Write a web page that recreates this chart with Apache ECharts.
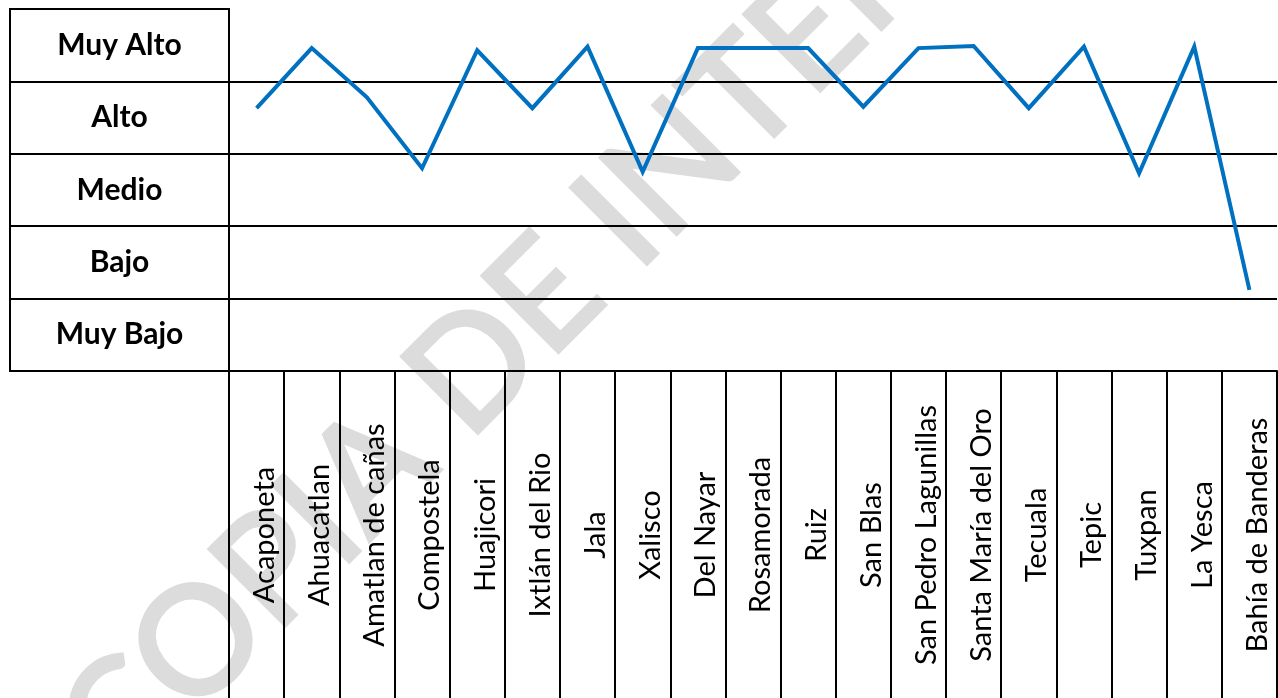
<!DOCTYPE html>
<html>
<head>
<meta charset="utf-8">
<script src="https://cdn.jsdelivr.net/npm/echarts@6/dist/echarts.min.js"></script>
<style>
html,body{margin:0;padding:0;background:#fff;}
#chart{width:1278px;height:698px;}
</style>
</head>
<body>
<div id="chart"></div>
<script>
// Categories (municipalities) along the bottom table
const municipios = ['Acaponeta','Ahuacatlan','Amatlan de cañas','Compostela','Huajicori','Ixtlán del Rio','Jala','Xalisco','Del Nayar','Rosamorada','Ruiz','San Blas','San Pedro Lagunillas','Santa María del Oro','Tecuala','Tepic','Tuxpan','La Yesca','Bahía de Banderas'];
// Level rows (bottom to top)
const niveles = ['Muy Bajo','Bajo','Medio','Alto','Muy Alto'];
// Line values on a 0..5 scale (each level row is one unit; row centre = n + 0.5)
const valores = [3.63, 4.46, 3.78, 2.80, 4.43, 3.63, 4.48, 2.75, 4.46, 4.46, 4.46, 3.65, 4.46, 4.49, 3.63, 4.48, 2.73, 4.48, 1.12];
const marcaAgua1 = 'COPIA DE ';
const marcaAgua2 = 'INTERNET';

const chart = echarts.init(document.getElementById('chart'), null, {renderer:'canvas'});
const black = '#000';
const wmStyle = { font: '150px Lato', fill: '#dcdcdc', stroke: '#dcdcdc', lineWidth: 4, lineJoin: 'round', verticalAlign: 'middle', x: 0, y: 0 };
chart.setOption({
  animation: false,
  backgroundColor: '#fff',
  graphic: [
    { type: 'text', x: 603, y: 239, rotation: Math.PI / 4, z: -10, silent: true,
      style: Object.assign({}, wmStyle, { text: marcaAgua1, align: 'right' }) },
    { type: 'text', x: 603, y: 239, rotation: Math.PI / 4, z: -10, silent: true,
      style: Object.assign({}, wmStyle, { text: marcaAgua2, align: 'left' }) }
  ],
  grid: [
    { left: 10, top: 9, width: 219, height: 362, show: true, borderColor: black, borderWidth: 2, backgroundColor: 'transparent' },
    { left: 229, top: 9, right: 1, height: 362, show: false }
  ],
  xAxis: [
    { gridIndex: 0, type: 'value', show: false, min: 0, max: 1 },
    { gridIndex: 1, type: 'category', data: municipios, boundaryGap: true,
      axisLine: { show: true, lineStyle: { color: black, width: 2 } },
      axisTick: { show: true, interval: 0, length: 327, lineStyle: { color: black, width: 2 } },
      axisLabel: { interval: 0, rotate: 90, margin: 164, align: 'center', verticalAlign: 'top', lineHeight: 16,
        color: '#000', fontFamily: 'Lato', fontSize: 29 },
      splitLine: { show: false } }
  ],
  yAxis: [
    { gridIndex: 0, type: 'category', data: niveles, boundaryGap: true,
      axisLine: { show: false }, axisTick: { show: false },
      axisLabel: { inside: true, margin: 109.5, align: 'center', verticalAlign: 'middle',
        color: '#000', fontFamily: 'Lato', fontWeight: 'bold', fontSize: 30 },
      splitLine: { show: true, interval: 0, lineStyle: { color: black, width: 2 } } },
    { gridIndex: 1, type: 'value', min: 0, max: 5, interval: 1,
      axisLine: { show: false }, axisTick: { show: false }, axisLabel: { show: false },
      splitLine: { show: true, showMaxLine: false, lineStyle: { color: black, width: 2 } } }
  ],
  series: [{
    type: 'line', xAxisIndex: 1, yAxisIndex: 1, data: valores,
    symbol: 'none', lineStyle: { color: '#0070C0', width: 4, cap: 'butt', join: 'miter' },
    z: 5
  }]
});
</script>
</body>
</html>
